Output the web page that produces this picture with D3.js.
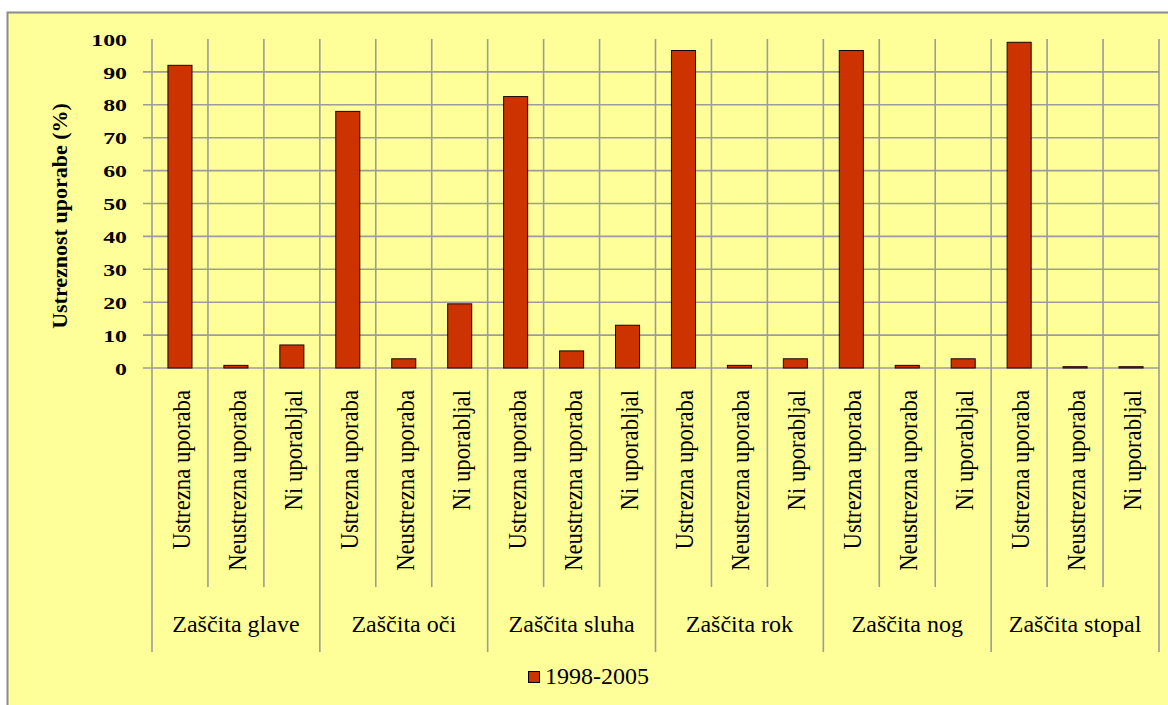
<!DOCTYPE html>
<html><head><meta charset="utf-8">
<script src="https://cdn.jsdelivr.net/npm/d3@7"></script>
</head><body style="margin:0;padding:0;background:#fff;">
<svg id="chart" width="1168" height="705" style="display:block;font-family:'Liberation Serif';"></svg>
<script>
const groups = ["Zaščita glave","Zaščita oči","Zaščita sluha","Zaščita rok","Zaščita nog","Zaščita stopal"];
const subcats = ["Ustrezna uporaba","Neustrezna uporaba","Ni uporabljal"];
const values = [92, 0.8, 7, 78, 2.8, 19.5, 82.5, 5.2, 13, 96.5, 0.8, 2.8, 96.5, 0.8, 2.8, 99, 0.4, 0.4];
const yTicks = [0,10,20,30,40,50,60,70,80,90,100];
const seriesName = "1998-2005";
const yTitle = "Ustreznost uporabe (%)";

const svg = d3.select("#chart");
function ft(sel, size, weight) {
  sel.style("font-family", '"Liberation Serif"').style("font-size", size + "px");
  if (weight) sel.style("font-weight", weight);
  return sel;
}
svg.append("rect").attr("x",0).attr("y",0).attr("width",1168).attr("height",705).attr("fill","#ffffff");
svg.append("rect").attr("x",7.5).attr("y",12.5).attr("width",1170).attr("height",700)
  .attr("fill","#FFFF99").attr("stroke","#8c8c8c").attr("stroke-width",2);

const L = 152, R = 1159, T = 39, B = 368;
const cats = [];
groups.forEach(g => subcats.forEach(s => cats.push(g + "|" + s)));
const data = cats.map((c,i) => ({key:c, group:c.split("|")[0], sub:c.split("|")[1], value:values[i], i}));

const x = d3.scaleBand().domain(cats).range([L,R]).paddingInner(0).paddingOuter(0);
const y = d3.scaleLinear().domain([0,100]).range([B,T]);
const gridColor = "#9c9c9c";

svg.append("g").selectAll("line").data(yTicks.filter(v => v < 100)).join("line")
  .attr("x1", L-9).attr("x2", R).attr("y1", d => y(d)).attr("y2", d => y(d))
  .attr("stroke", gridColor).attr("stroke-width", 1.6);

const bounds = d3.range(cats.length + 1);
svg.append("g").selectAll("line").data(bounds).join("line")
  .attr("x1", i => L + i * x.bandwidth()).attr("x2", i => L + i * x.bandwidth())
  .attr("y1", T).attr("y2", i => (i % 3 === 0) ? 652 : 587)
  .attr("stroke", gridColor).attr("stroke-width", 1.6);

const bw = x.bandwidth() * 0.43;
svg.append("g").selectAll("rect").data(data).join("rect")
  .attr("x", d => x(d.key) + (x.bandwidth() - bw) / 2)
  .attr("y", d => y(d.value))
  .attr("width", bw)
  .attr("height", d => B - y(d.value))
  .attr("fill", "#CC3300").attr("stroke", "#1a0500").attr("stroke-width", 1);

const yAxis = d3.axisLeft(y).tickValues(yTicks).tickSize(0).tickPadding(0);
const ga = svg.append("g").attr("transform", `translate(${L},0)`).call(yAxis);
ga.select(".domain").remove();
ga.attr("font-family", null).attr("font-size", null);
ft(ga.selectAll("text")
  .attr("x", 0).attr("dy", "0.36em")
  .attr("transform", "translate(-25,0) scale(1.4,1)")
  .attr("fill", "#000").attr("text-anchor", "end"), 17, "bold");

ft(svg.append("text")
  .attr("transform", "translate(67,216) rotate(-90)")
  .attr("text-anchor", "middle")
  .text(yTitle), 22, "bold");

ft(svg.append("g").selectAll("text").data(data).join("text")
  .attr("transform", d => `translate(${x(d.key) + x.bandwidth()/2 + 10},390) scale(1.12,1) rotate(-90)`)
  .attr("text-anchor", "end")
  .text(d => d.sub), 22.7);

ft(svg.append("g").selectAll("text").data(groups).join("text")
  .attr("x", (g,i) => L + (i*3 + 1.5) * x.bandwidth())
  .attr("y", 632)
  .attr("text-anchor", "middle")
  .text(g => g), 24);

svg.append("rect").attr("x", 528.5).attr("y", 671.5).attr("width", 11).attr("height", 11)
  .attr("fill", "#CC3300").attr("stroke", "#000").attr("stroke-width", 1);
ft(svg.append("text").attr("x", 545).attr("y", 684)
  .text(seriesName), 24);
</script>
</body></html>
